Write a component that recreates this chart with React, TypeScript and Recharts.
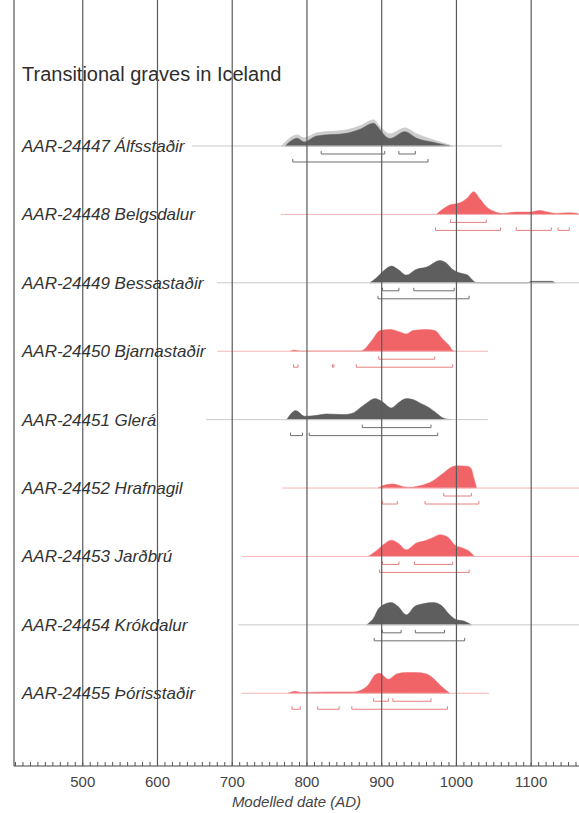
import { ComposedChart, Area, Line, XAxis, YAxis, ReferenceLine } from "recharts";

// sample labels, top to bottom
const samples = [
  "AAR-24447 Álfsstaðir",
  "AAR-24448 Belgsdalur",
  "AAR-24449 Bessastaðir",
  "AAR-24450 Bjarnastaðir",
  "AAR-24451 Glerá",
  "AAR-24452 Hrafnagil",
  "AAR-24453 Jarðbrú",
  "AAR-24454 Krókdalur",
  "AAR-24455 Þórisstaðir",
];
const sampleTone = ["grey", "red", "grey", "red", "grey", "red", "red", "grey", "red"];

// [year AD, relative probability]
const alfsstadirPrior: [number, number][] = [
  [766, 0], [787, 11], [796, 8], [813, 13], [853, 16], [871, 20], [889, 26], [898, 19],
  [911, 12], [931, 18], [947, 12], [969, 6], [995, 0],
];
const alfsstadir: [number, number][] = [
  [771, 0], [787, 7.7], [796, 4], [813, 10], [853, 12.7], [871, 16.7], [889, 22.7], [898, 16],
  [907, 8.5], [911, 7.5], [931, 14.3], [947, 7.7], [969, 3.7], [991, 0],
];
const belgsdalur: [number, number][] = [
  [973, 0], [991, 9.3], [1005, 11.7], [1014, 16], [1023, 22.7], [1031, 16], [1040, 7.7],
  [1049, 3.3], [1062, 1], [1080, 2.3], [1098, 2.3], [1112, 4], [1120, 2.7], [1134, 1],
  [1151, 1.7], [1163, 1],
];
const bessastadir: [number, number][] = [
  [884, 0], [893, 5], [903, 12.3], [913, 16.7], [922, 13.3], [933, 7.7], [946, 13.3],
  [960, 15.7], [978, 22.3], [986, 20], [995, 13.3], [1004, 10], [1015, 7.7], [1024, 1],
  [1029, 0], [1095, 0], [1100, 1.5], [1128, 1.5], [1132, 0],
];
const bjarnastadir: [number, number][] = [
  [778, 0], [783, 1.2], [790, 0], [870, 0], [875, 1], [886, 10], [898, 20.7], [911, 21.7],
  [924, 19.3], [933, 17.3], [942, 20.7], [960, 21.7], [971, 20.7], [982, 11.7], [991, 5],
  [995, 0.7], [998, 0],
];
const glera: [number, number][] = [
  [773, 0], [785, 9], [797, 3.3], [813, 4.3], [826, 5.7], [849, 5], [862, 6.7], [871, 11.7],
  [880, 16.7], [891, 21], [900, 18.3], [913, 11.7], [922, 16.7], [933, 21], [942, 20],
  [951, 16.7], [964, 11.7], [973, 6.7], [982, 1.7], [993, 0],
];
const hrafnagil: [number, number][] = [
  [895, 0], [906, 3.3], [915, 4], [929, 1.3], [938, 0.7], [951, 2.3], [969, 7.3], [978, 12.3],
  [984, 15.7], [993, 20.7], [1000, 22.3], [1015, 21.7], [1020, 19], [1023, 10.7], [1027, 0],
];
const jardbru: [number, number][] = [
  [882, 0], [893, 5.7], [903, 12.3], [913, 16.3], [922, 13.3], [933, 6.7], [946, 13.3],
  [958, 15.7], [969, 19], [978, 21.7], [989, 19], [998, 11.3], [1006, 9], [1018, 4.7], [1024, 0],
];
const krokdalur: [number, number][] = [
  [880, 0], [889, 6.7], [897, 17.3], [913, 22.3], [922, 18.3], [933, 10], [944, 18.3],
  [955, 21], [969, 22.3], [980, 19.3], [991, 10], [1000, 5], [1009, 4], [1020, 0],
];
const thorisstadir: [number, number][] = [
  [775, 0], [784, 2], [793, 0.7], [808, 1], [835, 1.3], [862, 1.3], [873, 3.3], [882, 8.3],
  [891, 18.3], [897, 20], [909, 14], [920, 19.3], [933, 20.7], [946, 20.7], [960, 19.3],
  [966, 16.7], [980, 6.7], [991, 0],
];
const posteriors = [alfsstadir, belgsdalur, bessastadir, bjarnastadir, glera, hrafnagil, jardbru, krokdalur, thorisstadir];

// plotted span of each distribution (thin baseline)
const spans: [number, number][] = [
  [646, 1061], [765, 1164], [680, 1164], [680, 1042], [665, 1042],
  [767, 1164], [713, 1164], [708, 1164], [713, 1044],
];

// highest posterior density ranges
const ranges68: [number, number][][] = [
  [[819, 904], [923, 945]],
  [[992, 1040]],
  [[901, 923], [943, 997]],
  [[896, 971]],
  [[874, 966]],
  [[983, 1020]],
  [[901, 923], [944, 995]],
  [[901, 926], [945, 984]],
  [[889, 909], [915, 966]],
];
const ranges95: [number, number][][] = [
  [[781, 962]],
  [[972, 1059], [1080, 1127], [1136, 1151]],
  [[895, 1017]],
  [[782, 788], [834, 836], [866, 995]],
  [[778, 794], [803, 975]],
  [[901, 921], [958, 1030]],
  [[897, 1017]],
  [[890, 1011]],
  [[780, 791], [814, 843], [860, 988]],
];

const centuries = [500, 600, 700, 800, 900, 1000, 1100];
const X_MIN = 408;
const X_MAX = 1164;
const decades = Array.from({ length: 76 }, (_, i) => 410 + i * 10);

// layout (in y units, 68px per unit)
const Y_MAX = 11.265;
const ROW_TOP = 9.118;
const ROW_STEP = 1.006;
const P_SCALE = 1 / 68;
const OFF68 = 8 / 68;
const OFF95 = 16 / 68;
const TICK = 3 / 68;

const TONES: Record<string, { fill: string; prior: string; line: string; span: string }> = {
  grey: { fill: "#5e5e5e", prior: "#cdcdcd", line: "#6e6e6e", span: "#c9c9c9" },
  red: { fill: "#f06468", prior: "#f7b9b9", line: "#e58080", span: "#f2b6b6" },
};

const rowBase = (i: number) => ROW_TOP - ROW_STEP * i;
const toBand = (pts: [number, number][], base: number) =>
  pts.map(([year, p]) => ({ year, band: [base, base + p * P_SCALE] }));
const bracket = ([a, b]: [number, number], y: number) => [
  { year: a, v: y + TICK },
  { year: a, v: y },
  { year: b, v: y },
  { year: b, v: y + TICK },
];

const FONT = '"Liberation Sans", Arial, sans-serif';

const YearTick = (props: any) => {
  const { x, y, payload } = props;
  const major = payload.value % 100 === 0;
  return (
    <g>
      <line x1={x} x2={x} y1={y} y2={y - 4} stroke="#555" />
      {major && (
        <text x={x} y={y + 21} textAnchor="middle" fontSize={15} fill="#444" fontFamily={FONT}>
          {payload.value}
        </text>
      )}
    </g>
  );
};

const SampleTick = (props: any) => {
  const { y, payload } = props;
  const idx = Math.round((ROW_TOP - payload.value) / ROW_STEP);
  return (
    <text x={22} y={y + 6} textAnchor="start" fontSize={17} fontStyle="italic" fill="#333" fontFamily={FONT}>
      {samples[idx] ?? ""}
    </text>
  );
};

export default function App() {
  const rowTicks = samples.map((_, i) => rowBase(i)).reverse();

  return (
    <div style={{ position: "absolute", left: 0, top: 0, width: 579, height: 813, background: "#fff", fontFamily: FONT }}>
      <div style={{ position: "absolute", left: 22, top: 63, fontSize: 20, color: "#2e2e2e", whiteSpace: "nowrap" }}>
        Transitional graves in Iceland
      </div>
      <ComposedChart width={579} height={813} margin={{ top: 0, right: 0, bottom: 0, left: 13 }}>
        <XAxis
          dataKey="year"
          type="number"
          domain={[X_MIN, X_MAX]}
          ticks={decades}
          interval={0}
          allowDataOverflow
          height={47}
          tickSize={0}
          tickMargin={0}
          tick={<YearTick />}
          axisLine={{ stroke: "#444" }}
          label={{
            value: "Modelled date (AD)",
            position: "insideBottom",
            offset: 6,
            style: { fontSize: 15, fontStyle: "italic", fill: "#444", fontFamily: FONT },
          }}
        />
        <YAxis
          type="number"
          domain={[0, Y_MAX]}
          allowDataOverflow
          ticks={rowTicks}
          interval={0}
          width={1}
          axisLine={false}
          tickLine={false}
          tick={<SampleTick />}
        />

        {spans.map((s, i) => (
          <Line
            key={`span-${i}`}
            data={[{ year: s[0], v: rowBase(i) }, { year: s[1], v: rowBase(i) }]}
            dataKey="v"
            stroke={TONES[sampleTone[i]].span}
            strokeWidth={1}
            dot={false}
            activeDot={false}
            isAnimationActive={false}
          />
        ))}

        <Area
          data={toBand(alfsstadirPrior, rowBase(0))}
          dataKey="band"
          type="monotone"
          fill={TONES.grey.prior}
          fillOpacity={1}
          stroke={TONES.grey.prior}
          dot={false}
          activeDot={false}
          isAnimationActive={false}
        />

        {posteriors.map((pts, i) => (
          <Area
            key={`post-${i}`}
            data={toBand(pts, rowBase(i))}
            dataKey="band"
            type="monotone"
            fill={TONES[sampleTone[i]].fill}
            fillOpacity={1}
            stroke={TONES[sampleTone[i]].fill}
            strokeWidth={0.5}
            dot={false}
            activeDot={false}
            isAnimationActive={false}
          />
        ))}

        {ranges68.flatMap((rs, i) =>
          rs.map((r, j) => (
            <Line
              key={`r68-${i}-${j}`}
              data={bracket(r, rowBase(i) - OFF68)}
              dataKey="v"
              stroke={TONES[sampleTone[i]].line}
              strokeWidth={1}
              dot={false}
              activeDot={false}
              isAnimationActive={false}
            />
          ))
        )}
        {ranges95.flatMap((rs, i) =>
          rs.map((r, j) => (
            <Line
              key={`r95-${i}-${j}`}
              data={bracket(r, rowBase(i) - OFF95)}
              dataKey="v"
              stroke={TONES[sampleTone[i]].line}
              strokeWidth={1}
              dot={false}
              activeDot={false}
              isAnimationActive={false}
            />
          ))
        )}

        <ReferenceLine x={X_MIN} stroke="#555" strokeWidth={1.2} ifOverflow="visible" />
        {centuries.map((c) => (
          <ReferenceLine key={c} x={c} stroke="#5a5a5a" strokeWidth={1.2} />
        ))}
      </ComposedChart>
    </div>
  );
}
